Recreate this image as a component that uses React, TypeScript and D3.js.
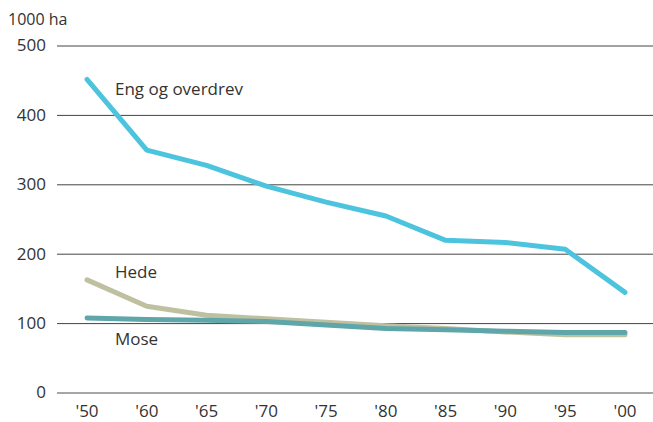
import React from "react";
import * as d3 from "d3";

const categories = ["'50", "'60", "'65", "'70", "'75", "'80", "'85", "'90", "'95", "'00"];
const engValues = [452, 350, 328, 298, 275, 255, 220, 217, 207, 145];
const hedeValues = [163, 125, 112, 107, 102, 97, 93, 88, 84, 84];
const moseValues = [108, 106, 105, 103, 98, 93, 91, 89, 87, 87];
const yTicks = [0, 100, 200, 300, 400, 500];
const unitLabel = "1000 ha";

const seriesList = [
  { name: "Hede", values: hedeValues, color: "#bfc0a0", lx: 115, ly: 272 },
  { name: "Mose", values: moseValues, color: "#5fa6aa", lx: 115, ly: 339 },
  { name: "Eng og overdrev", values: engValues, color: "#4cc4de", lx: 115, ly: 89 },
];

export default function App() {
  const W = 653;
  const H = 422;
  const x = d3.scalePoint<string>().domain(categories).range([87, 625]);
  const y = d3.scaleLinear().domain([0, 500]).range([393, 46]);
  const line = d3
    .line<number>()
    .x((_, i) => x(categories[i]) as number)
    .y((d) => y(d));
  const font = "'Open Sans', Lato, sans-serif";
  return (
    <svg
      width={W}
      height={H}
      style={{ position: "absolute", left: 0, top: 0, background: "#fff" }}
      fontFamily={font}
    >
      <text x={8} y={25} fontSize={16} fill="#333">
        {unitLabel}
      </text>
      {yTicks.map((t) => (
        <g key={t}>
          <line
            x1={57}
            x2={653}
            y1={y(t)}
            y2={y(t)}
            stroke={t === 0 ? "#888" : "#444"}
            strokeWidth={t === 0 ? 1.5 : 1}
          />
          <text
            x={46}
            y={y(t)}
            dy="0.32em"
            textAnchor="end"
            fontSize={17}
            fill="#333"
          >
            {t}
          </text>
        </g>
      ))}
      {categories.map((c) => (
        <text
          key={c}
          x={x(c) as number}
          y={412}
          dy="0.32em"
          textAnchor="middle"
          fontSize={17}
          fill="#333"
        >
          {c}
        </text>
      ))}
      {seriesList.map((s) => (
        <path
          key={s.name}
          d={line(s.values) || ""}
          fill="none"
          stroke={s.color}
          strokeWidth={5}
          strokeLinecap="round"
          strokeLinejoin="round"
        />
      ))}
      {seriesList.map((s) => (
        <text
          key={s.name + "-label"}
          x={s.lx}
          y={s.ly}
          dy="0.35em"
          fontSize={17}
          fill="#333"
        >
          {s.name}
        </text>
      ))}
    </svg>
  );
}
